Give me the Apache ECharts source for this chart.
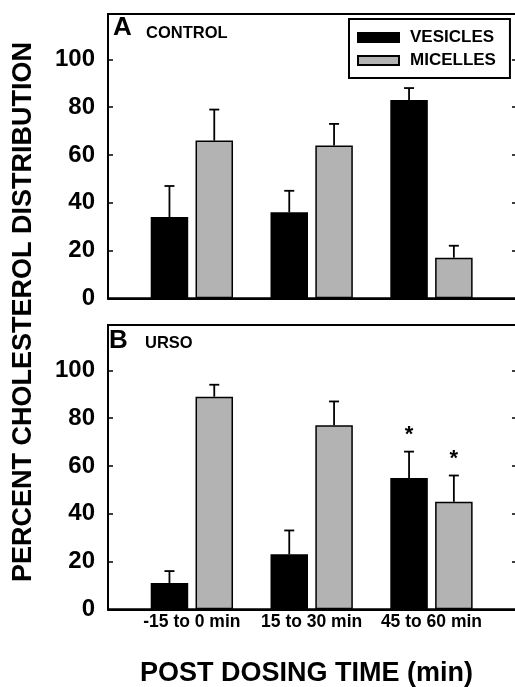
<!DOCTYPE html>
<html>
<head>
<meta charset="utf-8">
<script src="https://cdn.jsdelivr.net/npm/echarts@6/dist/echarts.min.js"></script>
<style>
html,body{margin:0;padding:0;background:#fff;}
#chart{width:515px;height:687px;}
</style>
</head>
<body>
<div id="chart"></div>
<script>
// ---- data ----
const categories = ['-15 to 0 min', '15 to 30 min', '45 to 60 min'];
const seriesNames = ['VESICLES', 'MICELLES'];
const controlVesicles = [34, 36, 83];
const controlVesiclesErr = [13, 9, 5];
const controlMicelles = [66, 64, 17];
const controlMicellesErr = [13, 9, 5];
const ursoVesicles = [11, 23, 55];
const ursoVesiclesErr = [5, 10, 11];
const ursoMicelles = [89, 77, 45];
const ursoMicellesErr = [5, 10, 11];
const ursoVesiclesSig = [0, 0, 1];
const ursoMicellesSig = [0, 0, 1];
const controlSig = [0, 0, 0];
const yTicks = [0, 20, 40, 60, 80, 100];
const panelLabels = ['A', 'B'];
const panelNames = ['CONTROL', 'URSO'];
const yTitle = 'PERCENT CHOLESTEROL DISTRIBUTION';
const xTitle = 'POST DOSING TIME (min)';

// ---- style ----
const FONT = '"Liberation Sans", Arial, Helvetica, sans-serif';
const BAR_W = 37.5;
const GAP_RATIO = 0.195;
const HALF_OFF = BAR_W * (1 + GAP_RATIO) / 2;
const GREY = '#b3b3b3';
const positions = categories.map((c, i) => i + 1);

const chart = echarts.init(document.getElementById('chart'), null, {renderer: 'canvas'});

function barData(vals) { return vals.map((v, i) => [positions[i], v]); }
function errData(vals, errs, sig) { return vals.map((v, i) => [positions[i], v, errs[i], sig[i]]); }

function errSeries(idx, vals, errs, sig, side) {
  return {
    type: 'custom', xAxisIndex: idx, yAxisIndex: idx * 2, z: 5,
    data: errData(vals, errs, sig),
    encode: {x: 0, y: 1},
    silent: true,
    renderItem: function (params, api) {
      const x = api.value(0), v = api.value(1), e = api.value(2), s = api.value(3);
      const base = api.coord([x, v]);
      const top = api.coord([x, v + e]);
      const px = base[0] + side * HALF_OFF;
      const children = [
        {type: 'line', shape: {x1: px, y1: base[1], x2: px, y2: top[1]}, style: {stroke: '#000', lineWidth: 1.8}},
        {type: 'line', shape: {x1: px - 5, y1: top[1], x2: px + 5, y2: top[1]}, style: {stroke: '#000', lineWidth: 1.8}}
      ];
      if (s) {
        children.push({type: 'text', x: px, y: top[1] - 17,
          style: {text: '*', font: 'bold 22px ' + FONT, fill: '#000', align: 'center', verticalAlign: 'middle'}});
      }
      return {type: 'group', children: children};
    }
  };
}

function barSeries(idx, name, vals, color) {
  return {
    type: 'bar', name: name, xAxisIndex: idx, yAxisIndex: idx * 2,
    data: barData(vals), barWidth: BAR_W, barGap: (GAP_RATIO * 100) + '%',
    itemStyle: {color: color, borderColor: '#000', borderWidth: 1.5},
    emphasis: {disabled: true}
  };
}

const grids = [
  {left: 108, top: 14, width: 409, height: 284.3},
  {left: 108, top: 325, width: 409, height: 284.3}
].map(g => Object.assign(g, {show: true, borderColor: '#000', borderWidth: 2, backgroundColor: 'transparent',
  containLabel: false, outerBoundsMode: 'none'}));

const xAxes = [0, 1].map(i => ({
  type: 'value', gridIndex: i, min: 0.3, max: 3.714,
  axisLine: {show: true, onZero: false, lineStyle: {color: '#000', width: 2}},
  axisTick: {show: false},
  splitLine: {show: false},
  axisLabel: i === 1 ? {
    show: true, customValues: positions, margin: 4, color: '#000',
    fontWeight: 'bold', fontSize: 17.5, fontFamily: FONT,
    formatter: v => categories[Math.round(v) - 1] || ''
  } : {show: false}
}));

const yAxes = [];
[0, 1].forEach(i => {
  yAxes.push({
    type: 'value', gridIndex: i, position: 'left', min: 0, max: 119,
    axisLine: {show: true, lineStyle: {color: '#000', width: 2}},
    axisTick: {show: true, inside: true, length: 5, customValues: yTicks, lineStyle: {color: '#000', width: 1.5}},
    splitLine: {show: false},
    axisLabel: {show: true, customValues: yTicks, margin: 13, color: '#000', fontWeight: 'bold', fontSize: 24, fontFamily: FONT}
  });
  yAxes.push({
    type: 'value', gridIndex: i, position: 'right', min: 0, max: 119,
    axisLine: {show: true, lineStyle: {color: '#000', width: 2}},
    axisTick: {show: true, inside: true, length: 5, customValues: yTicks, lineStyle: {color: '#000', width: 1.5}},
    splitLine: {show: false},
    axisLabel: {show: false}
  });
});

const graphics = [
  {type: 'text', x: 24, y: 312, rotation: Math.PI / 2,
    style: {text: yTitle, font: 'bold 27px ' + FONT, fill: '#000', align: 'center', verticalAlign: 'middle'}},
  {type: 'text', x: 306.5, y: 674,
    style: {text: xTitle, font: 'bold 27px ' + FONT, fill: '#000', align: 'center', verticalAlign: 'middle'}},
  {type: 'text', x: 113, y: 28,
    style: {text: panelLabels[0], font: 'bold 26px ' + FONT, fill: '#000', align: 'left', verticalAlign: 'middle'}},
  {type: 'text', x: 146, y: 33,
    style: {text: panelNames[0], font: 'bold 16.5px ' + FONT, fill: '#000', align: 'left', verticalAlign: 'middle'}},
  {type: 'text', x: 109, y: 341,
    style: {text: panelLabels[1], font: 'bold 26px ' + FONT, fill: '#000', align: 'left', verticalAlign: 'middle'}},
  {type: 'text', x: 145, y: 343,
    style: {text: panelNames[1], font: 'bold 16.5px ' + FONT, fill: '#000', align: 'left', verticalAlign: 'middle'}}
];

chart.setOption({
  animation: false,
  backgroundColor: '#fff',
  grid: grids,
  xAxis: xAxes,
  yAxis: yAxes,
  legend: {
    left: 349, top: 19, orient: 'vertical',
    data: seriesNames,
    icon: 'rect', itemWidth: 41, itemHeight: 9, itemGap: 6,
    padding: [10, 14, 9, 8],
    borderColor: '#000', borderWidth: 2, backgroundColor: '#fff',
    selectedMode: false,
    textStyle: {color: '#000', fontWeight: 'bold', fontSize: 17, fontFamily: FONT, padding: [0, 0, 0, 6]}
  },
  graphic: graphics,
  series: [
    barSeries(0, seriesNames[0], controlVesicles, '#000'),
    barSeries(0, seriesNames[1], controlMicelles, GREY),
    barSeries(1, seriesNames[0], ursoVesicles, '#000'),
    barSeries(1, seriesNames[1], ursoMicelles, GREY),
    errSeries(0, controlVesicles, controlVesiclesErr, controlSig, -1),
    errSeries(0, controlMicelles, controlMicellesErr, controlSig, 1),
    errSeries(1, ursoVesicles, ursoVesiclesErr, ursoVesiclesSig, -1),
    errSeries(1, ursoMicelles, ursoMicellesErr, ursoMicellesSig, 1)
  ]
});
</script>
</body>
</html>
